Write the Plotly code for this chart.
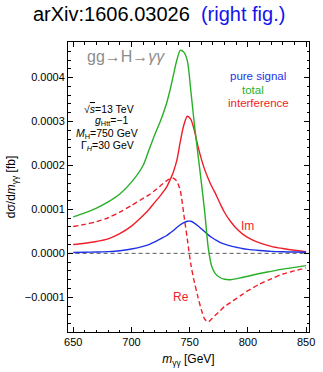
import plotly.graph_objects as go

# ---- data ----
mass = [650, 660, 670, 680, 690, 700, 710, 715, 720, 725, 730, 733, 736, 739, 742, 745,
        748, 751, 754, 757, 760, 763, 766, 769, 772, 776, 780, 785, 790, 795, 800, 810,
        820, 830, 840, 850]

pure_signal = [0.02, 0.025, 0.03, 0.04, 0.06, 0.10, 0.16, 0.20, 0.26, 0.33, 0.40, 0.46,
               0.52, 0.59, 0.65, 0.70, 0.73, 0.73, 0.69, 0.63, 0.56, 0.49, 0.42, 0.36,
               0.31, 0.25, 0.21, 0.17, 0.14, 0.11, 0.09, 0.065, 0.045, 0.035, 0.03, 0.025]

total = [0.83, 0.92, 1.03, 1.17, 1.35, 1.62, 2.00, 2.35, 2.70, 3.02, 3.40, 3.70, 4.05,
         4.40, 4.62, 4.58, 4.38, 3.70, 2.95, 2.28, 1.62, 0.92, 0.12, -0.30, -0.46, -0.55,
         -0.59, -0.60, -0.58, -0.55, -0.52, -0.46, -0.41, -0.36, -0.32, -0.28]

interf_im = [0.20, 0.23, 0.27, 0.33, 0.45, 0.62, 0.86, 1.00, 1.16, 1.32, 1.50, 1.66, 1.85,
             2.12, 2.55, 2.92, 3.12, 3.05, 2.80, 2.45, 2.15, 1.90, 1.70, 1.52, 1.37, 1.14,
             0.93, 0.73, 0.57, 0.45, 0.36, 0.24, 0.16, 0.11, 0.07, 0.04]

interf_re = [0.61, 0.66, 0.72, 0.81, 0.94, 1.09, 1.25, 1.33, 1.43, 1.54, 1.65, 1.70, 1.71,
             1.64, 1.42, 0.88, 0.32, -0.25, -0.65, -0.98, -1.28, -1.50, -1.56, -1.49,
             -1.41, -1.31, -1.21, -1.12, -1.03, -0.94, -0.85, -0.70, -0.58, -0.47, -0.40,
             -0.33]

scale = 1e-4
x_ticks = [650, 700, 750, 800, 850]
y_ticks = [-0.0001, 0.0, 0.0001, 0.0002, 0.0003, 0.0004]
y_tick_labels = ["\u22120.0001", "0.0000", "0.0001", "0.0002", "0.0003", "0.0004"]

GREEN = "rgb(40,175,40)"
RED = "rgb(240,30,40)"
BLUE = "rgb(30,50,230)"
FONT = "Liberation Sans, Arial, sans-serif"

fig = go.Figure()

# zero line
fig.add_trace(go.Scatter(x=[mass[0] - 10, mass[-1] + 10], y=[0, 0], mode="lines",
                         line=dict(color="rgb(90,90,90)", width=1, dash="4px,3px"),
                         hoverinfo="skip", showlegend=False))

def add(yvals, color, dash=None):
    fig.add_trace(go.Scatter(x=mass, y=[v * scale for v in yvals], mode="lines",
                             line=dict(color=color, width=1.4, shape="spline",
                                       smoothing=0.8, dash=dash),
                             showlegend=False))

add(interf_re, RED, dash="5px,3px")
add(interf_im, RED)
add(pure_signal, BLUE)
add(total, GREEN)

axis_common = dict(showline=True, linecolor="black", linewidth=1, mirror="ticks",
                   ticks="inside", ticklen=5, tickcolor="black", showgrid=False,
                   zeroline=False,
                   tickfont=dict(family=FONT, size=11, color="black"))

fig.update_xaxes(range=[645.5, 852.5], tickvals=x_ticks,
                 ticktext=[str(v) for v in x_ticks],
                 minor=dict(ticks="inside", dtick=10, tick0=650, ticklen=2.5,
                            tickcolor="black"),
                 title=dict(text="<i>m</i><sub>γγ</sub> [GeV]",
                            font=dict(family=FONT, size=12, color="black"), standoff=7),
                 **axis_common)
fig.update_yaxes(range=[-0.000179, 0.000481], tickvals=y_ticks, ticktext=y_tick_labels,
                 minor=dict(ticks="inside", dtick=0.00002, tick0=0, ticklen=2.5,
                            tickcolor="black"),
                 title=dict(text="dσ/d<i>m</i><sub>γγ</sub> [fb]",
                            font=dict(family=FONT, size=12, color="black"), standoff=6),
                 **axis_common)

ann = []
ann.append(dict(x=161, y=13, text="arXiv:1606.03026  <span style='color:rgb(20,20,235)'>(right fig.)</span>",
                font=dict(family=FONT, size=20, color="black")))
ann.append(dict(x=127, y=57, text="gg→H→<i>γγ</i>",
                font=dict(family=FONT, size=16, color="rgb(140,140,140)")))
params = ["√<span style='text-decoration:overline'><i>s</i></span>=13 TeV",
          "<i>g</i><sub>Htt</sub>=−1",
          "<i>M</i><sub>H</sub>=750 GeV",
          "Γ<sub><i>H</i></sub>=30 GeV"]
params_x = [110, 113, 108, 108.5]
for i, t in enumerate(params):
    ann.append(dict(x=params_x[i], y=110.5 + 12.8 * i, text=t,
                    font=dict(family=FONT, size=10.5, color="black")))
for (t, c, xx, yy) in [("pure signal", BLUE, 263, 77), ("total", GREEN, 258, 91),
                       ("interference", RED, 263, 104.5)]:
    ann.append(dict(x=xx, y=yy, text=t, font=dict(family=FONT, size=11.5, color=c)))
ann.append(dict(x=252, y=230.5, text="Im", font=dict(family=FONT, size=12, color=RED)))
ann.append(dict(x=184, y=303, text="Re", font=dict(family=FONT, size=12, color=RED)))

W, H = 323, 372
L, R, T, B = 68, 8, 42, 33
# convert pixel positions to paper coordinates
for a in ann:
    a["x"] = (a["x"] - L) / (W - L - R)
    a["y"] = 1 - (a["y"] - T) / (H - T - B)
    a["xref"] = "paper"
    a["yref"] = "paper"
    a["showarrow"] = False
    a["xanchor"] = "center"
    a["yanchor"] = "middle"

fig.update_layout(width=W, height=H, margin=dict(l=L, r=R, t=T, b=B),
                  plot_bgcolor="white", paper_bgcolor="white", annotations=ann,
                  font=dict(family=FONT))

fig.write_html("out.html")
